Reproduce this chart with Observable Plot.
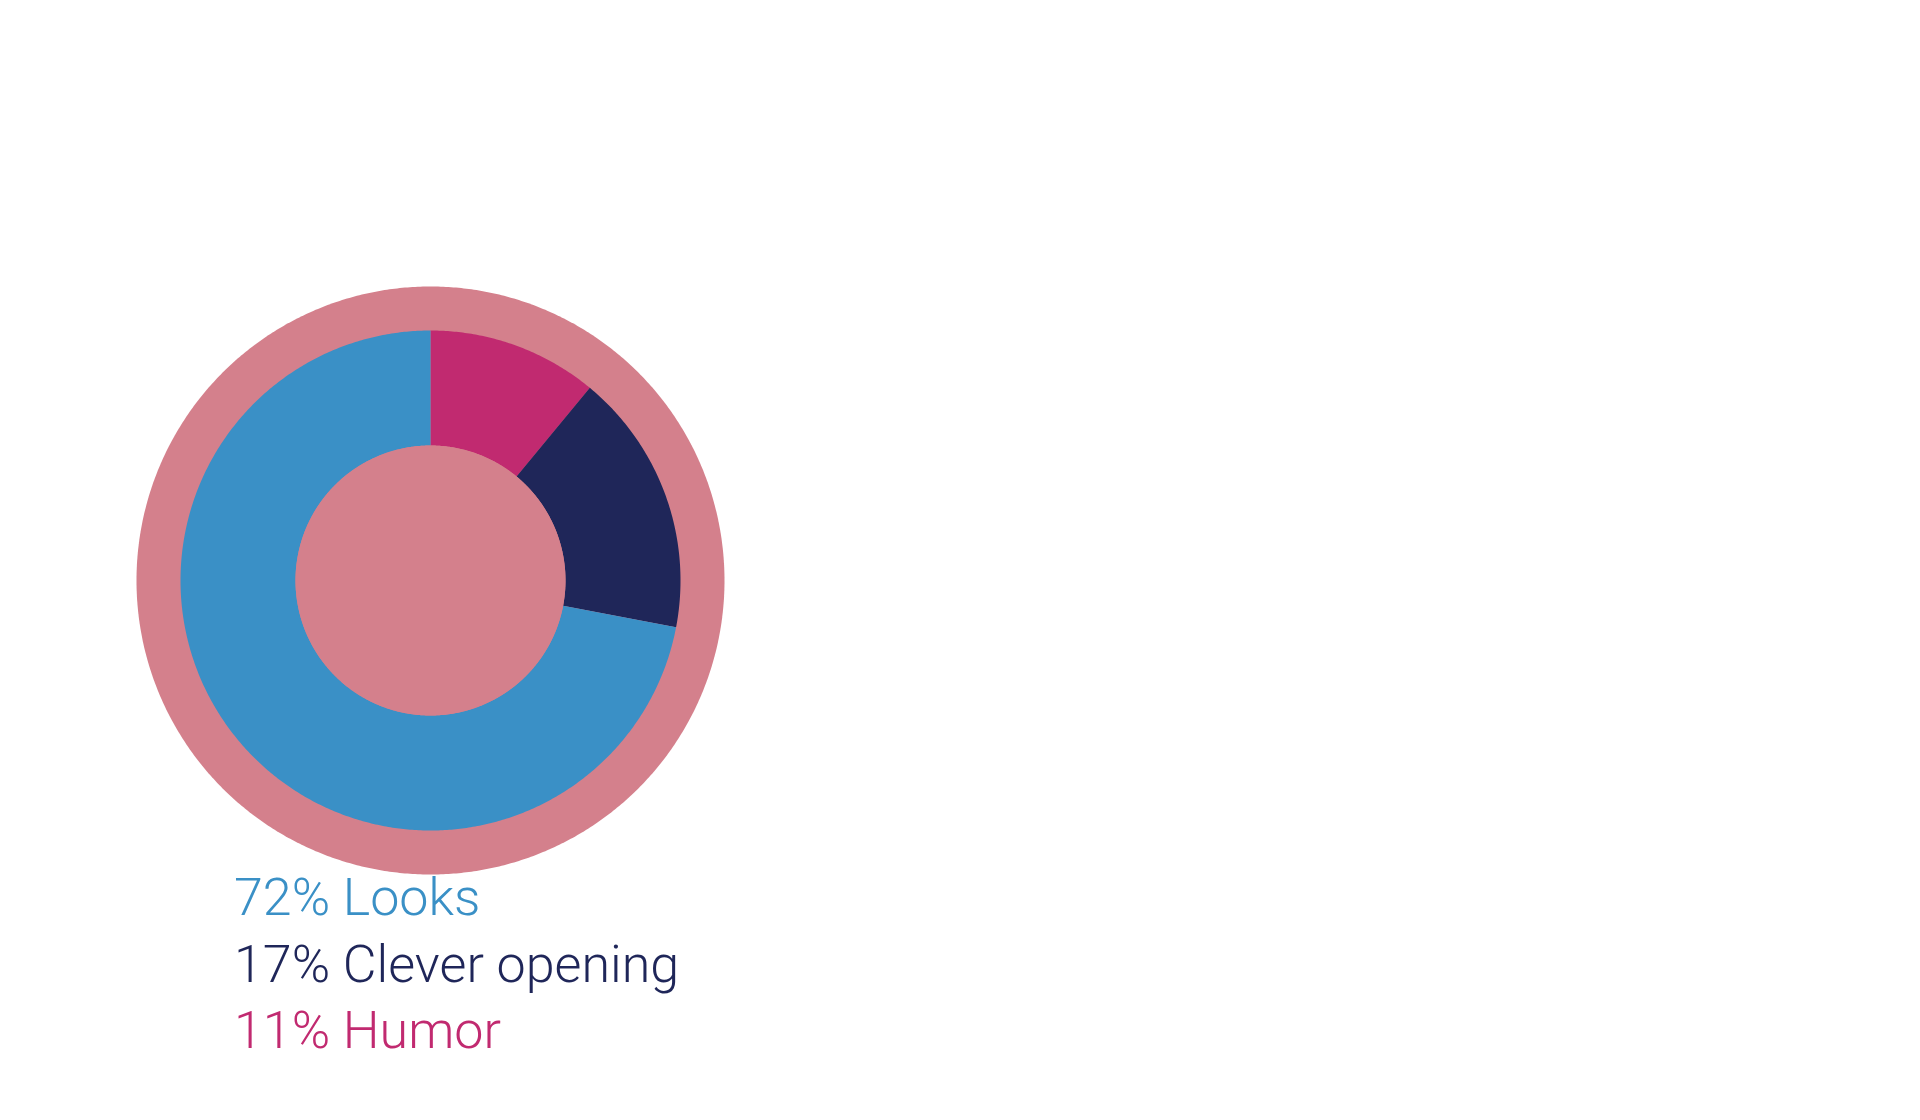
<!DOCTYPE html>
<html>
<head>
<meta charset="utf-8">
<script src="https://cdn.jsdelivr.net/npm/d3@7"></script>
<script src="https://cdn.jsdelivr.net/npm/@observablehq/plot@0.6"></script>
<style>
  html, body { margin: 0; padding: 0; background: #ffffff; }
  #chart svg { display: block; }
  #legend { position: relative; margin-top: -15px; padding-left: 234px; font-family: Roboto, "Open Sans", sans-serif; font-weight: 300; font-size: 52px; line-height: 66.7px; letter-spacing: 0px; }
</style>
</head>
<body>
<div id="chart"></div>
<div id="legend"></div>
<script>
// Data (clockwise from 12 o'clock)
const categories = ["Humor", "Clever opening", "Looks"];
const values = [11, 17, 72];
const colors = ["#c12a70", "#1f2659", "#3a90c6"];
const backgroundColor = "#d4808c";

// Geometry in chart units (centre at 0,0)
const R_BG = 294, R_OUT = 250, R_IN = 135;
const STEP = Math.PI / 360;

const pie = d3.pie().sort(null).value(d => d.value)(categories.map((c, i) => ({category: c, value: values[i]})));

function arcPoints(r, a0, a1) {
  const pts = [];
  const n = Math.max(2, Math.ceil((a1 - a0) / STEP));
  for (let k = 0; k <= n; k++) {
    const a = a0 + (a1 - a0) * k / n;
    pts.push([r * Math.sin(a), r * Math.cos(a)]);
  }
  return pts;
}

const slices = [];
for (const s of pie) {
  const outer = arcPoints(R_OUT, s.startAngle, s.endAngle);
  const inner = arcPoints(R_IN, s.startAngle, s.endAngle).reverse();
  for (const [x, y] of [...outer, ...inner]) slices.push({x, y, category: s.data.category});
}
const disc = r => arcPoints(r, 0, 2 * Math.PI).map(([x, y]) => ({x, y}));

const W = 1920, H = 880, CX = 430, CY = 580;
const plot = Plot.plot({
  width: W, height: H,
  margin: 0,
  x: {domain: [-CX, W - CX], range: [0, W], axis: null},
  y: {domain: [-(H - CY), CY], range: [H, 0], axis: null},
  color: {domain: categories, range: colors},
  marks: [
    Plot.line(disc(R_BG), {x: "x", y: "y", fill: backgroundColor, stroke: "none"}),
    Plot.line(slices, {x: "x", y: "y", z: "category", fill: "category", stroke: "none"}),
    Plot.line(disc(R_IN), {x: "x", y: "y", fill: backgroundColor, stroke: "none"})
  ]
});
document.getElementById("chart").appendChild(plot);

const legend = document.getElementById("legend");
for (let i = categories.length - 1; i >= 0; i--) {
  const d = document.createElement("div");
  d.textContent = `${values[i]}% ${categories[i]}`;
  d.style.color = colors[i];
  legend.appendChild(d);
}
</script>
</body>
</html>
